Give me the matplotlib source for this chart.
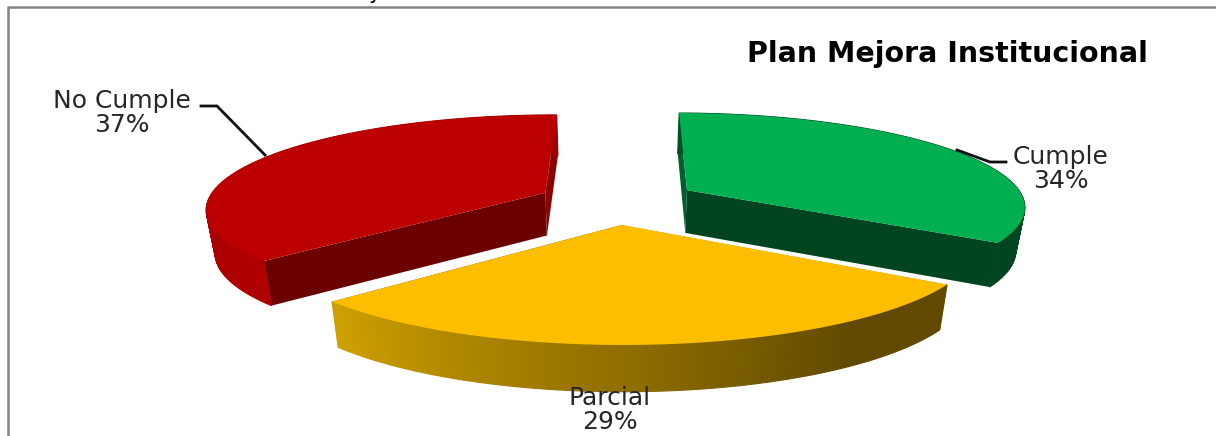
import numpy as np
import matplotlib
matplotlib.use("Agg")
import matplotlib.pyplot as plt
from matplotlib.patches import Polygon
from matplotlib.colors import to_rgb

# Survey results
categories = ["Cumple", "Parcial", "No Cumple"]
values = [34, 29, 37]
title = "Plan Mejora Institucional"

top_colors = ["#00B050", "#FDBE00", "#BC0000"]
inner_colors = ["#004520", "#6B5000", "#6B0000"]
radial_colors = ["#005F2C", "#C99A00", "#8C0000"]
wall_from = ["#004F26", "#CFA100", "#B00000"]
wall_to = ["#004520", "#614900", "#9A0000"]
explode = [0.25, 0.25, 0.225]
label_xy = [(1061, 169), (610, 410), (122, 113)]
leaders = [[(957, 150), (990, 162), (1006, 162)],
           None,
           [(201, 106), (217, 106), (265, 155)]]

# Perspective camera for the tilted pie, in pixel units
CX, CY = 614, 201
A, B, K = 338, 92.5, 0.158
DEPTH = 43
DEPTH_GROWTH = 0.36
SHRINK = 0.022
START_ANGLE = np.radians(0.4)


def project(u, v, z=0.0):
    w = 1 / (1 + K * v)
    x = CX + A * u * w * (1 - SHRINK * z)
    y = CY - B * v * w + DEPTH * (1 + DEPTH_GROWTH * (w - 1)) * z
    return np.column_stack([np.atleast_1d(x), np.atleast_1d(y)])


fig = plt.figure(figsize=(12.16, 4.36), dpi=100)
ax = fig.add_axes([0, 0, 1, 1])
ax.set_xlim(0, 1216)
ax.set_ylim(436, 0)
ax.axis("off")

# Chart frame: only the top and left edges fall inside the canvas
ax.plot([8, 8, 1216], [436, 7.5, 7.5], color="#858585", lw=1.8, solid_capstyle="butt")
ax.text(375, 3, "y", fontsize=15, ha="center", va="bottom", color="black", clip_on=False)

shares = np.array(values, dtype=float) / sum(values)
edges = START_ANGLE + np.concatenate([[0], np.cumsum(shares)]) * 2 * np.pi

for i in range(len(values)):
    t0, t1 = edges[i], edges[i + 1]
    mid = (t0 + t1) / 2
    ou, ov = explode[i] * np.sin(mid), explode[i] * np.cos(mid)
    th = np.linspace(t0, t1, 140)
    au, av = ou + np.sin(th), ov + np.cos(th)

    apex_top = project(ou, ov)
    apex_bot = project(ou, ov, 1)
    arc_top = project(au, av)
    arc_bot = project(au, av, 1)

    # Radial side faces: the one facing the viewer is the darker one
    ax.add_patch(Polygon(np.vstack([apex_top, arc_top[:1], arc_bot[:1], apex_bot]),
                         fc=inner_colors[i] if i == 2 else radial_colors[i], ec="none", zorder=2))
    ax.add_patch(Polygon(np.vstack([apex_top, arc_top[-1:], arc_bot[-1:], apex_bot]),
                         fc=radial_colors[i] if i == 2 else inner_colors[i], ec="none", zorder=2))

    # Curved rim, shaded strip by strip from one end to the other
    c0, c1 = np.array(to_rgb(wall_from[i])), np.array(to_rgb(wall_to[i]))
    if i == 1:
        c0, c1 = c1, c0
    for j in range(len(th) - 1):
        f = j / (len(th) - 2)
        if i == 1:
            f = max(0.0, (f - 0.22) / 0.78)
        col = c0 + (c1 - c0) * f
        quad = np.vstack([arc_top[j], arc_top[j + 1], arc_bot[j + 1], arc_bot[j]])
        ax.add_patch(Polygon(quad, fc=col, ec=col, lw=0.8, zorder=3))

    # Top face
    ax.add_patch(Polygon(np.vstack([apex_top, arc_top]), fc=top_colors[i], ec="none", zorder=4))

    if leaders[i]:
        xs, ys = zip(*leaders[i])
        ax.plot(xs, ys, color="#111111", lw=2, zorder=5, solid_joinstyle="miter")

    ax.text(*label_xy[i], f"{categories[i]}\n{values[i]}%", ha="center", va="center",
            fontsize=18, color="#262626", linespacing=0.95, zorder=6)

ax.text(947, 54, title, ha="center", va="center", fontsize=20.5, fontweight="bold",
        color="black", zorder=6)

fig.savefig("out.png", dpi=100, facecolor="white")
